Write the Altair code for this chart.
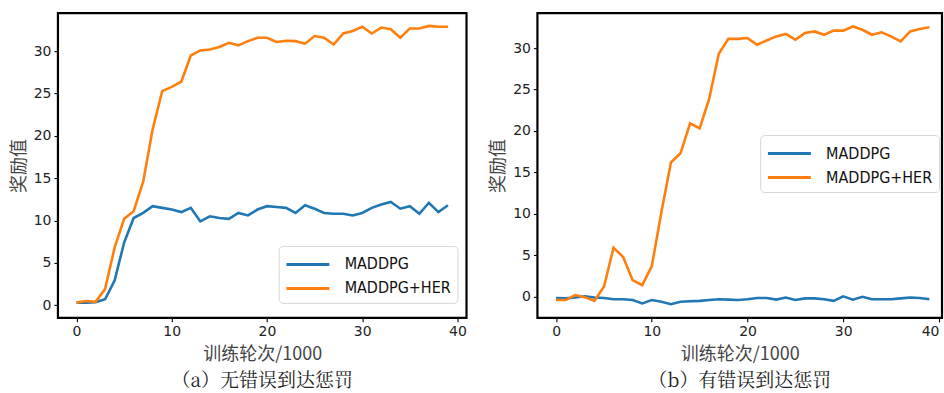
import altair as alt
import pandas as pd

# ---- data ----
steps = list(range(40))
series_names = ["MADDPG", "MADDPG+HER"]
series_colors = ["#1f77b4", "#ff7f0e"]

a_maddpg = [0.3, 0.3, 0.35, 0.7, 2.9, 7.4, 10.3, 10.9, 11.7, 11.5,
            11.3, 11.0, 11.5, 9.9, 10.5, 10.3, 10.2, 10.9, 10.6, 11.3,
            11.7, 11.6, 11.5, 10.9, 11.8, 11.4, 10.9, 10.8, 10.8, 10.6,
            10.9, 11.5, 11.9, 12.2, 11.4, 11.7, 10.8, 12.1, 11.0, 11.8]
a_her = [0.3, 0.5, 0.4, 1.9, 6.8, 10.2, 11.1, 14.6, 20.8, 25.3,
         25.8, 26.4, 29.5, 30.1, 30.2, 30.5, 31.0, 30.7, 31.2, 31.6,
         31.6, 31.1, 31.25, 31.2, 30.9, 31.8, 31.6, 30.8, 32.1, 32.4,
         32.9, 32.1, 32.8, 32.6, 31.6, 32.7, 32.7, 33.0, 32.9, 32.9]
b_maddpg = [-0.15, -0.2, -0.1, 0.05, -0.1, -0.15, -0.3, -0.3, -0.4, -0.8,
            -0.4, -0.6, -0.9, -0.6, -0.55, -0.5, -0.4, -0.3, -0.35, -0.4,
            -0.3, -0.15, -0.15, -0.35, -0.1, -0.4, -0.2, -0.2, -0.3, -0.5,
            0.05, -0.35, 0.0, -0.3, -0.3, -0.3, -0.2, -0.1, -0.15, -0.3]
b_her = [-0.4, -0.4, 0.2, -0.05, -0.5, 1.2, 5.9, 4.8, 2.0, 1.4,
         3.7, 10.2, 16.2, 17.3, 20.9, 20.3, 23.9, 29.3, 31.1, 31.1,
         31.2, 30.4, 30.9, 31.4, 31.7, 31.0, 31.8, 32.0, 31.6, 32.1,
         32.1, 32.6, 32.2, 31.6, 31.9, 31.4, 30.8, 32.0, 32.3, 32.5]

x_ticks = [0, 10, 20, 30, 40]
y_ticks = [0, 5, 10, 15, 20, 25, 30]
x_title = "训练轮次/1000"
y_title = "奖励值"
captions = ["（a）无错误到达惩罚", "（b）有错误到达惩罚"]


def make_df(m, h):
    return pd.DataFrame({
        "step": steps + steps,
        "reward": m + h,
        "series": [series_names[0]] * len(m) + [series_names[1]] * len(h),
    })


def panel(df, caption, xdom, ydom, w, h, lx, ly):
    return alt.Chart(df).mark_line(strokeWidth=2.6, clip=True).encode(
        x=alt.X("step:Q",
                scale=alt.Scale(domain=xdom, nice=False, zero=False),
                axis=alt.Axis(values=x_ticks, title=x_title, labelFlush=6)),
        y=alt.Y("reward:Q",
                scale=alt.Scale(domain=ydom, nice=False, zero=False),
                axis=alt.Axis(values=y_ticks, title=y_title)),
        color=alt.Color("series:N",
                        scale=alt.Scale(domain=series_names, range=series_colors),
                        legend=alt.Legend(title=None, orient="none",
                                          legendX=lx, legendY=ly)),
    ).properties(
        width=w, height=h,
        title=alt.TitleParams(caption, orient="bottom", anchor="middle",
                              frame="group", offset=8),
    )


left = panel(make_df(a_maddpg, a_her), captions[0], [-1.95, 40.95], [-1.5, 34.5],
             409, 305, 221, 233)
right = panel(make_df(b_maddpg, b_her), captions[1], [-1.95, 40.32], [-2.55, 34.2],
              405, 305, 223, 122)

chart = alt.hconcat(left, right, spacing=71, bounds="flush").resolve_scale(
    color="independent"
).resolve_legend(color="independent").properties(
    padding={"left": 9, "top": 11, "right": 0, "bottom": 0},
    background="white",
).configure_view(
    stroke="black", strokeWidth=2.2,
).configure_axis(
    domain=False, grid=False,
    tickColor="black", tickWidth=1.1, tickSize=4,
    labelFont="DejaVu Sans", labelFontSize=14, labelColor="#222", labelPadding=3,
    titleFont="Noto Sans CJK SC", titleFontSize=18, titleFontWeight="normal",
    titleColor="#444",
).configure_axisX(titlePadding=7).configure_axisY(titlePadding=5).configure_legend(
    fillColor="rgba(255,255,255,0.85)", strokeColor="#d6d6d6", cornerRadius=4,
    padding=6, symbolType="M-1,0H3", symbolSize=462, symbolStrokeWidth=3,
    labelFont="Liberation Sans Narrow, DejaVu Sans Condensed, sans-serif",
    labelFontSize=16, labelColor="#111", labelOffset=35, rowPadding=3,
).configure_title(
    font="Noto Serif CJK SC, Noto Sans CJK SC", fontSize=19, fontWeight="normal",
    color="#222",
)

chart.save("out.html", embed_options={"renderer": "svg", "actions": False})
